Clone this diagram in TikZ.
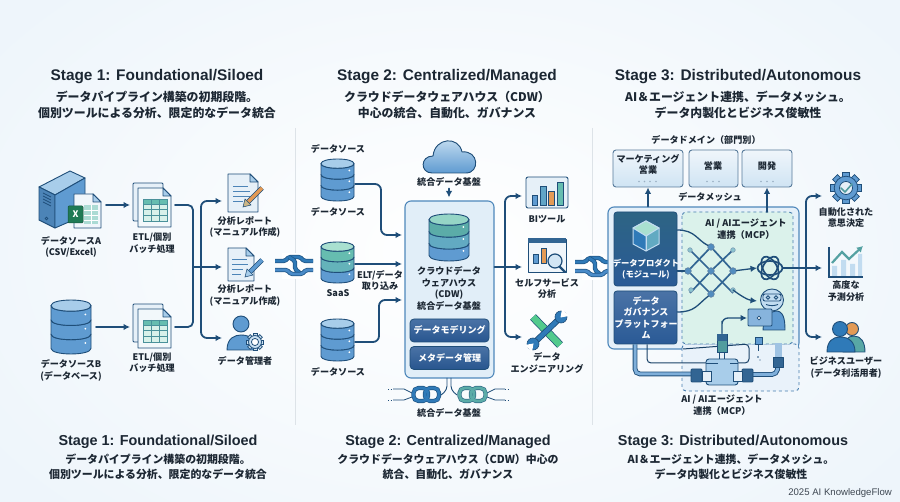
\documentclass[tikz,border=0pt]{standalone}
\usepackage{fontspec}
\setmainfont{Noto Sans CJK JP}
\newfontfamily\hdfont{Liberation Sans}
\usetikzlibrary{arrows.meta,calc}
\definecolor{navy}{HTML}{1F4E79}
\definecolor{ink}{HTML}{1C2733}
\definecolor{divg}{HTML}{DDE3E8}
\definecolor{pale}{HTML}{E6F0F8}
\definecolor{bluea}{HTML}{5F9BD1}
\definecolor{blueb}{HTML}{A8CDEA}
\definecolor{teala}{HTML}{66BDB0}
\definecolor{tealb}{HTML}{A9E0D0}
\definecolor{dkblue}{HTML}{2A5A96}
\definecolor{chaina}{HTML}{2F7AB8}
\definecolor{chainb}{HTML}{4A8BC8}
\definecolor{greenx}{HTML}{1F7A55}
\definecolor{orangeb}{HTML}{E39A55}
\tikzset{
  hd/.style={font=\hdfont\bfseries\fontsize{15.4}{18}\selectfont,text=ink,inner sep=0pt},
  hds/.style={font=\hdfont\bfseries\fontsize{14.4}{18}\selectfont,text=ink,inner sep=0pt},
  sub/.style={font=\bfseries\fontsize{11.9}{16.4}\selectfont,text=ink,align=center,inner sep=0pt},
  subs/.style={font=\bfseries\fontsize{10.9}{15}\selectfont,text=ink,align=center,inner sep=0pt},
  lbl/.style={font=\bfseries\fontsize{9.1}{11.4}\selectfont,text=ink,align=center,inner sep=0pt},
  wlbl/.style={font=\bfseries\fontsize{8.3}{11.5}\selectfont,text=white,align=center,inner sep=0pt},
  iconbox/.style={inner sep=0pt,outer sep=0pt,minimum width=#1},
  wire/.style={draw=navy,line width=1.8pt,line cap=round},
  flow/.style={wire,-{Latex[length=6.5pt,width=6.5pt]}},
  pipe/.style={draw=navy,line width=.9pt,double=bluea!80!white,double distance=3pt,rounded corners=5pt},
  thinw/.style={draw=navy!85!black,line width=1pt,rounded corners=4pt},
  ic/.style={draw=navy,line width=.9pt,line join=round},
  dombox/.style={draw=navy!75,line width=.9pt,rounded corners=3pt,top color=pale!60!white,bottom color=blueb!55!white,inner sep=0pt,minimum height=37pt},
  btn/.style={draw=navy,line width=.8pt,rounded corners=4pt,top color=dkblue!85!white,bottom color=dkblue!95!black,inner sep=0pt,minimum width=79pt,minimum height=23pt,font=\bfseries\fontsize{9}{11}\selectfont,text=white},
  lat/.style={draw=navy!70!bluea,line width=1.7pt},
  latn/.style={circle,inner sep=0pt,minimum size=6.5pt},
}
% cylinder: cx, ytop, r, height, top, tier1, tier2, tier3
\newcommand{\dbicon}[8]{%
 \begin{scope}[shift={(#1,#2)}]
  \pgfmathsetmacro\dbr{#3}\pgfmathsetmacro\dbry{#3*0.28}\pgfmathsetmacro\dbk{\dbry*1.33}
  \pgfmathsetmacro\dbt{(#4-2*\dbry)/3}
  \foreach \i/\c in {2/#8,1/#7,0/#6}{
   \pgfmathsetmacro\dba{\dbry+\i*\dbt}\pgfmathsetmacro\dbb{\dba+\dbt}
   \filldraw[ic,fill=\c] (-\dbr,\dba) -- (-\dbr,\dbb) .. controls (-\dbr,\dbb+\dbk) and (\dbr,\dbb+\dbk) .. (\dbr,\dbb) -- (\dbr,\dba) .. controls (\dbr,\dba+\dbk) and (-\dbr,\dba+\dbk) .. (-\dbr,\dba) -- cycle;
   \fill[white] (\dbr*0.72,\dba+\dbt*0.62) circle[radius=1];
  }
  \filldraw[ic,fill=#5] (-\dbr,\dbry) .. controls (-\dbr,\dbry+\dbk) and (\dbr,\dbry+\dbk) .. (\dbr,\dbry) .. controls (\dbr,\dbry-\dbk) and (-\dbr,\dbry-\dbk) .. (-\dbr,\dbry) -- cycle;
 \end{scope}}
% document: x1,y1,x2,y2 and fill
\newcommand{\docicon}[5]{%
 \filldraw[ic,fill=#5] (#1,#2) -- (#3-8,#2) -- (#3,#2+8) -- (#3,#4) -- (#1,#4) -- cycle;
 \filldraw[ic,fill=blueb] (#3-8,#2) -- (#3-8,#2+8) -- (#3,#2+8) -- cycle;}
% stacked sheets with table: x,y of back sheet
\newcommand{\etlicon}[2]{%
 \begin{scope}[shift={(#1,#2)}]
  \filldraw[ic,fill=pale,rounded corners=1pt] (0,0) rectangle (30,38);
  \docicon{5}{5}{38}{44}{pale!50!white}
  \fill[teala] (10,16) rectangle (34,21);
  \fill[tealb!45!white] (10,21) rectangle (34,38);
  \draw[teala!60!navy,line width=.6pt] (10,16) rectangle (34,38)
    (10,21) -- (34,21) (10,26.5) -- (34,26.5) (10,32) -- (34,32) (18,16) -- (18,38) (26,16) -- (26,38);
 \end{scope}}
\newcommand{\gearicon}[5]{% cx,cy,r,fill,inner fill
 \foreach \a in {0,45,...,315}{
  \filldraw[draw=navy,line width=.7pt,fill=#4,rotate around={\a:(#1,#2)}] (#1-#3*.22,#2-#3*1.0) rectangle (#1+#3*.22,#2-#3*.6);}
 \filldraw[draw=navy,line width=.8pt,fill=#4] (#1,#2) circle[radius=#3*.76];
 \filldraw[draw=navy,line width=.8pt,fill=#5] (#1,#2) circle[radius=#3*.42];}
% link between stages
\newcommand{\chainlink}[2]{%
 \begin{scope}[shift={(#1,#2)}]
  \fill[white] (-12,-13) rectangle (12,13);
  \foreach \w/\c in {4.4/navy!75!chaina,2.8/chaina}{
   \draw[line width=\w pt,\c,rounded corners=1.5pt] (-19,-5) -- (-9,-5) -- (-5,-9) -- (6,-9) -- (10,-5) -- (19,-5);}
  \foreach \w/\c in {4.4/navy!75!chaina,2.8/chaina}{
   \draw[line width=\w pt,\c,rounded corners=1.5pt] (-5,-9) -- (1,-5) -- (1,3) -- (7,8);}
  \foreach \w/\c in {4.4/navy!75!chaina,2.8/chainb}{
   \draw[line width=\w pt,\c,rounded corners=1.5pt] (-19,4) -- (-7,4) -- (-3,8) -- (8,8) -- (12,4) -- (19,4);}
 \end{scope}}
\begin{document}
\begin{tikzpicture}[x=1pt,y=-1pt]
\useasboundingbox (0,0) rectangle (900,502);
\shade[inner color=white,outer color=blueb!20!white] (-120,-120) rectangle (1020,622);
\clip (0,0) rectangle (900,502);
% dividers
\draw[divg,line width=1pt] (295,128) -- (295,425);
\draw[divg,line width=1pt] (592,128) -- (592,425);
\chainlink{294}{266}
\chainlink{594}{267}

%% ---------- titles
\node[hd] (t1) at (157,77) {Stage 1: Foundational/Siloed};
\node[hd] (t2) at (447,77) {Stage 2: Centralized/Managed};
\node[hd] (t3) at (738,77) {Stage 3: Distributed/Autonomous};
\node[sub] (s1) at (157,105) {データパイプライン構築の初期段階。\\個別ツールによる分析、限定的なデータ統合};
\node[sub] (s2) at (447,105) {クラウドデータウェアハウス（CDW）\\中心の統合、自動化、ガバナンス};
\node[sub] (s3) at (738,105) {AI＆エージェント連携、データメッシュ。\\データ内製化とビジネス俊敏性};
\node[hds] (b1) at (158,442) {Stage 1: Foundational/Siloed};
\node[hds] (b2) at (448,442) {Stage 2: Centralized/Managed};
\node[hds] (b3) at (733,442) {Stage 3: Distributed/Autonomous};
\node[subs] (c1) at (158,467) {データパイプライン構築の初期段階。\\個別ツールによる分析、限定的なデータ統合};
\node[subs] (c2) at (448,467) {クラウドデータウェアハウス（CDW）中心の\\統合、自動化、ガバナンス};
\node[subs] (c3) at (731,467) {AI＆エージェント連携、データメッシュ。\\データ内製化とビジネス俊敏性};
\node[font=\hdfont\fontsize{9.6}{11}\selectfont,text=ink!85,inner sep=0pt,anchor=east] (credit) at (892,493) {2025 AI KnowledgeFlow};

%% ---------- Stage 1
\node[iconbox=70pt,minimum height=56pt] (srcA) at (71,205) {};
\node[iconbox=50pt,minimum height=56pt] (srcB) at (71,327) {};
\node[iconbox=45pt,minimum height=44pt] (etlA) at (152.5,205) {};
\node[iconbox=45pt,minimum height=44pt] (etlB) at (152.5,327) {};
\node[iconbox=46pt,minimum height=38pt] (rpA) at (245,201) {};
\node[iconbox=46pt,minimum height=34pt] (rpB) at (245,267) {};
\node[iconbox=46pt,minimum height=30pt] (adm) at (245,338) {};
% server
\filldraw[ic,fill=blueb] (39,187) -- (70,171) -- (85,178) -- (55,195) -- cycle;
\filldraw[ic,fill=bluea!70!navy] (39,187) -- (55,195) -- (55,228) -- (39,220) -- cycle;
\filldraw[ic,fill=bluea] (55,195) -- (85,178) -- (85,215) -- (55,228) -- cycle;
\draw[navy,line width=.7pt] (43,193) -- (51,197) (43,196) -- (51,200) (43,199) -- (51,203) (43,202) -- (51,206);
\draw[navy,line width=.6pt] (46.5,218.5) circle[radius=1.4];
% sheet + excel
\docicon{74}{194}{101}{228}{pale!60!white}
\fill[teala!55!white] (84,205) rectangle (98,224);
\draw[white,line width=.6pt] (84,210) -- (98,210) (84,215) -- (98,215) (84,220) -- (98,220) (91,205) -- (91,224);
\filldraw[draw=greenx!70!black,line width=.5pt,fill=greenx,rounded corners=1pt] (68,206) rectangle (83,223);
\node[font=\bfseries\fontsize{9}{10}\selectfont,text=white,inner sep=0pt] (xl) at (75.5,214.5) {X};
% db B
\dbicon{71}{300}{20}{54}{blueb}{bluea}{bluea}{bluea}
% etl
\etlicon{133}{183}
\etlicon{133}{304}
% reports
\docicon{228}{174}{258}{212}{pale}
\draw[bluea!70!navy,line width=.7pt] (233,186) -- (248,186) (233,191) -- (250,191) (233,196) -- (250,196) (233,201) -- (243,201);
\draw[line width=4.6pt,navy] (248,202) -- (262,188);
\draw[line width=3.2pt,orangeb] (248,202) -- (262,188);
\filldraw[navy,fill=tealb!40!orangeb,line width=.5pt] (243,207) -- (245,199) -- (251,205) -- cycle;
\docicon{228}{248}{254}{281}{pale}
\draw[bluea!70!navy,line width=.7pt] (232,259) -- (247,259) (232,264) -- (248,264) (232,269) -- (243,269) (232,274) -- (241,274);
\draw[line width=4.6pt,navy] (250,272) -- (262,260);
\draw[line width=3.2pt,bluea] (250,272) -- (262,260);
\filldraw[navy,fill=blueb,line width=.5pt] (245,277) -- (247,269) -- (253,275) -- cycle;
% admin
\filldraw[ic,fill=bluea] (227,350) .. controls (227,338) and (235,335) .. (241,335) .. controls (250,335) and (257,340) .. (257,350) -- cycle;
\filldraw[ic,fill=bluea] (241,324) circle[radius=8];
\gearicon{255}{342}{8.5}{blueb!60!white}{white}
% labels stage 1
\node[lbl] (lA) at (71,247) {データソースA\\(CSV/Excel)};
\node[lbl] (lB) at (71,370.5) {データソースB\\(データベース)};
\node[lbl] (lE1) at (152,243) {ETL/個別\\バッチ処理};
\node[lbl] (lE2) at (152,362.5) {ETL/個別\\バッチ処理};
\node[lbl] (lR1) at (245,227) {分析レポート\\(マニュアル作成)};
\node[lbl] (lR2) at (245,295.5) {分析レポート\\(マニュアル作成)};
\node[lbl] (lAd) at (245,361) {データ管理者};
% connectors stage 1
\coordinate (ja) at (193,267);
\coordinate (jb) at (201,267);
\draw[flow] (srcA.east) -- (etlA.west);
\draw[flow] (srcB.east) -- (etlB.west);
\draw[wire,rounded corners=5pt] (etlA.east) -| (ja);
\draw[wire,rounded corners=5pt] (etlB.east) -| (ja);
\draw[flow] (ja) -- (rpB.west);
\draw[flow,rounded corners=6pt] (jb) |- (rpA.west);
\draw[flow,rounded corners=6pt] (jb) |- (adm.west);

%% ---------- Stage 2
\node[iconbox=34pt,minimum height=42pt] (dsA) at (338,184) {};
\node[iconbox=34pt,minimum height=42pt] (dsB) at (338,264) {};
\node[iconbox=34pt,minimum height=42pt] (dsC) at (338,342) {};
\dbicon{337.5}{159}{16.5}{42}{blueb}{bluea}{bluea}{bluea}
\dbicon{337.5}{242}{16.5}{41}{tealb}{teala}{teala!70!bluea}{bluea}
\dbicon{337.5}{319}{16.5}{42}{blueb}{bluea}{bluea}{bluea}
\node[lbl] (lS1) at (338,149) {データソース};
\node[lbl] (lS2) at (338,212) {データソース};
\node[lbl] (lS3) at (338,293) {SaaS};
\node[lbl] (lS4) at (338,372) {データソース};
% cloud
\filldraw[ic,top color=blueb!60!white,bottom color=bluea] (432,173) .. controls (420,173) and (420,156) .. (433,156) .. controls (435,137) and (459,136) .. (462,152) .. controls (479,150) and (480,173) .. (466,173) -- cycle;
\node[lbl] (lCl) at (449,182) {統合データ基盤};
% panel
\node[draw=bluea!75!navy,line width=1.1pt,rounded corners=6pt,fill=blueb!34!white,minimum width=89pt,minimum height=177pt,inner sep=0pt] (cdw) at (449.5,289.5) {};
\dbicon{449}{214}{20}{47}{tealb!70!teala}{teala!85!navy}{teala!45!bluea}{bluea}
\node[lbl] (lCd) at (449,288.5) {クラウドデータ\\ウェアハウス\\(CDW)\\統合データ基盤};
\node[btn] (bt1) at (449.5,330.5) {データモデリング};
\node[btn] (bt2) at (449.5,358) {メタデータ管理};
% bottom chains
\coordinate (stem) at (449,378);
\draw[navy,line width=.9pt,rounded corners=4pt] (447,378) -- (447,390) -- (441,395);
\draw[navy,line width=.9pt,rounded corners=4pt] (451,378) -- (451,390) -- (457,395);
\draw[navy,line width=.8pt] (393,389) -- (404,389) -- (412,393) (393,400) -- (404,400) -- (412,397);
\draw[navy,line width=.8pt] (505,389) -- (495,389) -- (487,393) (505,400) -- (495,400) -- (487,397);
\draw[navy,line width=.6pt,dotted] (388,389) -- (393,389) (388,400) -- (393,400) (505,389) -- (510,389) (505,400) -- (510,400);
\foreach \w/\c in {4.2/navy!80!chaina,2.8/chaina}{
 \draw[\c,line width=\w pt,rounded corners=5pt] (413.5,388) rectangle (428,401);
 \draw[\c,line width=\w pt,rounded corners=5pt] (425,388) rectangle (439,401);}
\foreach \w/\c in {4.2/navy!70!teala,2.8/teala!85!navy}{
 \draw[\c,line width=\w pt,rounded corners=5pt] (459.5,388) rectangle (474,401);
 \draw[\c,line width=\w pt,rounded corners=5pt] (471,388) rectangle (485.5,401);}
\node[lbl] (lBs) at (449,413) {統合データ基盤};
% BI etc
\node[iconbox=46pt,minimum height=40pt] (bi) at (545,196) {};
\node[iconbox=46pt,minimum height=36pt] (ss) at (545,267) {};
\node[iconbox=46pt,minimum height=36pt] (wr) at (545,337) {};
\draw[ic,fill=pale,rounded corners=2pt] (526,177) rectangle (568,208);
\filldraw[navy,line width=.5pt,fill=bluea] (532,195) rectangle (537,205);
\filldraw[navy,line width=.5pt,fill=bluea!70!teala] (540,186) rectangle (546,205);
\filldraw[navy,line width=.5pt,fill=orangeb] (548,191) rectangle (554,205);
\filldraw[navy,line width=.5pt,fill=teala] (557,182) rectangle (563,205);
\draw[ic,fill=pale!60!white] (528,239) rectangle (566,272);
\fill[navy!70!bluea] (528,238) rectangle (566,243);
\filldraw[navy,line width=.5pt,fill=bluea] (533,254) rectangle (538,263);
\filldraw[navy,line width=.5pt,fill=orangeb] (541,248) rectangle (546,263);
\draw[navy,line width=2.2pt,line cap=round] (560,267) -- (565,272);
\filldraw[navy,line width=1.2pt,fill=blueb!50!white] (555,261) circle[radius=7];
% tools
\draw[navy,line width=8pt] (533,317) -- (560,345);
\draw[teala!80!green,line width=6.6pt] (533,317) -- (560,345);
\draw[navy,line width=6pt,line cap=round] (535,342) -- (559,319);
\draw[chaina,line width=4.4pt,line cap=round] (535,342) -- (559,319);
\filldraw[navy,line width=.6pt,fill=chaina] (533,344) circle[radius=6];
\filldraw[navy,line width=.6pt,fill=chaina] (561,317) circle[radius=6];
\fill[white] (560.5,317.5) -- (569,316) -- (562,309) -- cycle;
\fill[white] (533.5,343.5) -- (525,345) -- (532,352) -- cycle;
\node[lbl] (lBI) at (547,219) {BIツール};
\node[lbl] (lSS) at (547,288.5) {セルフサービス\\分析};
\node[lbl] (lWr) at (547,363) {データ\\エンジニアリング};
% connectors stage 2
\coordinate (inA) at (402,235);
\coordinate (inB) at (402,264);
\coordinate (inC) at (402,300);
\coordinate (out) at (505,267);
\draw[flow,rounded corners=6pt] (dsA.east) -| (381,210) |- (inA);
\draw[flow] (dsB.east) -- (inB);
\draw[flow,rounded corners=6pt] (dsC.east) -| (379,320) |- (inC);
\draw[flow] ($(lCl.south)+(0,2)$) -- ($(cdw.north)+(-.5,-3)$);
\draw[flow] (cdw.east |- out) -- (ss.west);
\draw[flow,rounded corners=6pt] (out) |- (bi.west);
\draw[flow,rounded corners=6pt] (out) |- (wr.west);
\node[lbl] (lEl) at (380,280.5) {ELT/データ\\取り込み};

%% ---------- Stage 3
\node[lbl] (lDm) at (706,140) {データドメイン（部門別）};
\node[dombox,minimum width=70pt] (dA) at (648,168.5) {};
\node[dombox,minimum width=49pt] (dB) at (713.5,168.5) {};
\node[dombox,minimum width=50pt] (dC) at (767,168.5) {};
\node[lbl] (tA) at (648,164.5) {マーケティング\\営業};
\node[lbl] (tB) at (713,166) {営業};
\node[lbl] (tC) at (767,166) {開発};
\fill[navy!45!white] foreach \x in {639,644.5,650,656} {(\x,181.5) circle[radius=.9]};
\fill[navy!45!white] foreach \x in {707,713,719,761,767,773} {(\x,181.5) circle[radius=.9]};
\node[lbl] (lMs) at (710,197) {データメッシュ};
% panel
\node[draw=bluea!75!navy,line width=1.1pt,rounded corners=6pt,fill=blueb!30!white,minimum width=191pt,minimum height=142pt,inner sep=0pt] (mesh) at (703.5,278) {};
\filldraw[draw=bluea!60!navy,dashed,line width=.9pt,rounded corners=4pt,fill=blueb!25!white] (682,344) rectangle (799,391);
\filldraw[draw=bluea!60!navy,dashed,line width=.9pt,rounded corners=4pt,fill=tealb!42!white] (682,212) rectangle (793,344);
\node[draw=navy,line width=.8pt,rounded corners=3pt,top color=navy!80!teala,bottom color=dkblue,minimum width=63pt,minimum height=74pt,inner sep=0pt] (dp) at (645.5,249) {};
\node[draw=navy,line width=.8pt,rounded corners=3pt,top color=dkblue!85!white,bottom color=dkblue,minimum width=63pt,minimum height=53pt,inner sep=0pt] (gov) at (645.5,317.5) {};
% cube
\filldraw[draw=blueb!70!white,line width=1pt,line join=round,fill=teala!45!bluea] (646,221) -- (659,228) -- (659,244) -- (646,251) -- cycle;
\filldraw[draw=blueb!70!white,line width=1pt,line join=round,fill=chaina] (646,221) -- (633,228) -- (633,244) -- (646,251) -- cycle;
\filldraw[draw=blueb!70!white,line width=1pt,line join=round,fill=tealb] (646,221) -- (659,228) -- (646,236) -- (633,228) -- cycle;
\draw[blueb!70!white,line width=1pt] (646,236) -- (646,251);
\node[wlbl] (tDp) at (646,269) {データプロダクト\\(モジュール)};
\node[wlbl,font=\bfseries\fontsize{9}{11.5}\selectfont] (tGv) at (646,318) {データ\\ガバナンス\\プラットフォー\\ム};
\node[lbl,font=\bfseries\fontsize{9.2}{12}\selectfont] (lAI) at (746,229.5) {AI / AIエージェント\\連携（MCP）};
\node[lbl,font=\bfseries\fontsize{9.2}{12}\selectfont] (lAB) at (722,405.5) {AI / AIエージェント\\連携（MCP）};
% lattice
\node[latn] (nT) at (711,247) {};
\node[latn] (nL) at (688,271) {};
\node[latn] (nC) at (711,271) {};
\node[latn] (nR) at (733,271) {};
\node[latn] (nB) at (711,294) {};
\coordinate (tl) at (690,250);
\coordinate (tr) at (733,250);
\coordinate (bl) at (691,290);
\coordinate (br) at (733,290);
\draw[lat] (tl) -- (nC.center) -- (733,293);
\draw[lat] (tr) -- (nC.center) -- (690,293);
\draw[lat] (nT.center) -- (nR.center) -- (nB.center) -- (nL.center) -- cycle;
\foreach \n in {nT,nL,nC,nR,nB}{\filldraw[fill=bluea!80!navy,draw=navy!70,line width=.6pt] (\n) circle[radius=3.3];}
\filldraw[fill=tealb!60!bluea,draw=navy!60,line width=.5pt] (tl) circle[radius=2.3] (tr) circle[radius=2.3] (bl) circle[radius=2.3] (br) circle[radius=2.3];
% knot
\node[iconbox=26pt,minimum height=26pt] (oa) at (770,268) {};
\foreach \a in {0,60,120}{\draw[navy,line width=1.7pt,rotate around={\a:(770,268)}] (770,268) ellipse[x radius=12.5,y radius=7];}
% robot
\filldraw[ic,fill=bluea] (763,330) .. controls (763,316) and (772,311) .. (776,311) .. controls (783,311) and (785,318) .. (785,330) -- cycle;
\filldraw[ic,fill=blueb!70!white] (772,300) ellipse[x radius=11.5,y radius=11];
\draw[navy,line width=.9pt,rounded corners=2pt] (763,294) rectangle (781,301);
\draw[navy,line width=.9pt] (768,297.5) circle[radius=1.7] (776,297.5) circle[radius=1.7] (766,304.5) .. controls (770,306) and (774,306) .. (778,304.5);
\node[inner sep=0pt,outer sep=0pt,minimum width=26pt,minimum height=18pt] (lap) at (760,318) {};
\filldraw[ic,fill=bluea!75!white,rounded corners=1pt] (748,309) rectangle (772,326);
\draw[navy,line width=.7pt,fill=white] (759,318) circle[radius=1.8];
% bottom plumbing
\coordinate (pipeR) at (778.5,343);
\draw[thinw] ($(gov.south)+(1.5,0)$) -- (647,363) -- (718,363);
\draw[thinw] (730,363) -- (749,363) -- (749,344) -- (683,349);
\draw[pipe] (635,344.5) -- (635,374) -- (695,374);
\draw[draw=none,fill=bluea!60!white] (775,343) rectangle (782,357);
\draw[pipe] (750,374.5) -- (777,374.5) -- (778,363);
\filldraw[ic,fill=blueb,rounded corners=3pt] (706,359) rectangle (738,385);
\draw[navy,line width=1pt] (718,363.5) -- (706,363.5) (738,363.5) -- (730,363.5);
\filldraw[ic,fill=navy!70!bluea,rounded corners=1pt] (691,369) rectangle (702,382);
\filldraw[draw=navy,line width=.6pt,fill=pale] (702,371) rectangle (711,381);
\filldraw[ic,fill=navy!70!bluea,rounded corners=1pt] (742,369) rectangle (753,382);
\filldraw[draw=navy,line width=.6pt,fill=pale] (733,371) rectangle (742,381);
\filldraw[ic,fill=navy!70!bluea] (773,357) rectangle (783,367);
\draw[navy,line width=.9pt] (719.5,352) -- (719.5,359) (724.5,352) -- (724.5,359);
\node[draw=navy,line width=.9pt,fill=teala!70!navy,inner sep=0pt,minimum width=10pt,minimum height=18pt] (plug) at (722,343) {};
\fill[navy!70!bluea] (717,334) rectangle (727,341);
% probe
\filldraw[draw=navy,line width=.7pt,fill=bluea] (755,337) rectangle (762,344);
\draw[navy,line width=.8pt] (758.5,344) -- (758.5,351);
\fill[navy] (758,357) circle[radius=.9] (760,360) circle[radius=.7];
% lattice wires
\draw[wire,line width=1.3pt] (dp.east |- 0,230) .. controls (695,230) and (697,240) .. (nT);
\draw[wire,line width=1.3pt] (dp.east |- nL) -- (nL);
\draw[wire,line width=1.3pt] (gov.east |- 0,312) .. controls (695,312) and (697,305) .. (nB);
\draw[flow,line width=1.3pt] (nR) -- (oa.west);
\draw[flow,line width=1.3pt] (br) .. controls (741,296) and (748,300) .. (757,301);
\draw[flow,line width=1.3pt,rounded corners=6pt] (plug.north) -- (722,327) -- (722,318) -- (lap.west);
\draw[flow,line width=2pt] (dA.south |- mesh.north) -- (dA.south);
\draw[flow,line width=2pt] (dC.south |- 0,212) -- (dC.south);
% outputs
\node[iconbox=46pt,minimum height=34pt] (oG) at (845,196) {};
\node[iconbox=46pt,minimum height=34pt] (oC) at (845,268) {};
\node[iconbox=46pt,minimum height=34pt] (oU) at (845,337) {};
\coordinate (ojn) at (806,268);
\draw[flow] (oa.east) -- (oC.west);
\draw[flow,rounded corners=6pt] (ojn) |- (oG.west);
\draw[flow,rounded corners=6pt] (ojn) |- (oU.west);
\gearicon{846}{188}{15.5}{bluea}{pale}
\draw[teala!70!navy,line width=1.6pt,line cap=round,line join=round] (841,188) -- (845,192) -- (852,184);
% chart
\fill[blueb!70!white] (832,266) rectangle (837,277) (841,260) rectangle (846,277) (850,264) rectangle (855,277) (858,254) rectangle (862,277);
\draw[navy,line width=1.3pt] (829,247) -- (829,277) -- (863,277);
\draw[teala!75!navy,line width=2.2pt,-{Latex[length=6pt,width=7pt]}] (832,263) -- (842,252) -- (849,259) -- (863,246);
% users
\filldraw[ic,fill=teala!80!navy] (843,352) .. controls (843,340) and (848,336) .. (854,336) .. controls (861,336) and (865,342) .. (865,352) -- cycle;
\filldraw[ic,fill=orangeb] (852,329) circle[radius=6.5];
\filldraw[ic,fill=chaina] (827,352) .. controls (827,341) and (833,337) .. (840,337) .. controls (849,337) and (855,342) .. (855,352) -- cycle;
\filldraw[ic,fill=chaina] (840,329) circle[radius=7.5];
\node[lbl] (lO1) at (846,217.5) {自動化された\\意思決定};
\node[lbl] (lO2) at (846,291) {高度な\\予測分析};
\node[lbl] (lO3) at (846,367.5) {ビジネスユーザー\\(データ利活用者)};
\end{tikzpicture}
\end{document}
